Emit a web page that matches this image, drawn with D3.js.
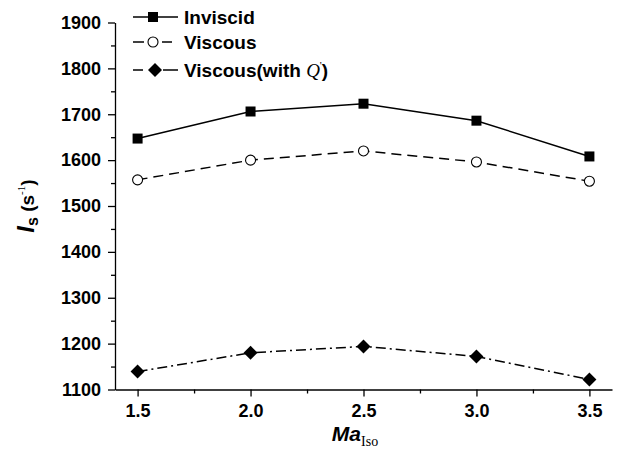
<!DOCTYPE html>
<html lang="en">
  <head>
    <meta charset="UTF-8" />
    <title>Is vs Ma</title>
    <script src="https://d3js.org/d3.v7.min.js"></script>
    <style>
      body { margin: 0; background: #fff; }
      text { font-family: "Liberation Sans", Arial, sans-serif; font-weight: bold; fill: #000; }
      .serif { font-family: "Liberation Serif", "Times New Roman", serif; font-weight: normal; }
    </style>
  </head>
  <body>
    <script>
      // data
      var maIso = [1.5, 2.0, 2.5, 3.0, 3.5];
      var inviscid = [1647, 1706, 1723, 1686, 1608];
      var viscous = [1557, 1600, 1620, 1596, 1554];
      var viscousQ = [1139, 1180, 1194, 1172, 1122];

      var xTicks = [1.5, 2.0, 2.5, 3.0, 3.5];
      var xMinor = [1.75, 2.25, 2.75, 3.25];
      var yTicks = [1100, 1200, 1300, 1400, 1500, 1600, 1700, 1800, 1900];
      var yMinor = [1150, 1250, 1350, 1450, 1550, 1650, 1750, 1850];

      var w = 622, h = 453;
      var svg = d3.select("body").append("svg")
        .attr("width", w).attr("height", h);

      var x = d3.scaleLinear().domain([1.4, 3.6]).range([115, 612]);
      var y = d3.scaleLinear().domain([1100, 1900]).range([389.5, 22.5]);

      // axes, major + minor ticks
      var gy = svg.append("g").attr("transform", "translate(115,0)")
        .call(d3.axisLeft(y).tickValues(yTicks).tickSize(7).tickSizeOuter(0).tickPadding(7).tickFormat(d3.format("d")));
      svg.append("g").attr("transform", "translate(115,0)")
        .call(d3.axisLeft(y).tickValues(yMinor).tickSize(4).tickSizeOuter(0).tickFormat(""))
        .select(".domain").remove();

      var gx = svg.append("g").attr("transform", "translate(0,389.5)")
        .call(d3.axisBottom(x).tickValues(xTicks).tickSize(7).tickSizeOuter(0).tickPadding(8).tickFormat(d3.format(".1f")));
      svg.append("g").attr("transform", "translate(0,389.5)")
        .call(d3.axisBottom(x).tickValues(xMinor).tickSize(4).tickSizeOuter(0).tickFormat(""))
        .select(".domain").remove();

      svg.selectAll(".tick line, .domain").attr("stroke", "#000").attr("stroke-width", 1.3);
      gy.selectAll("text").style("font-size", "18px").style("font-family", "Liberation Sans").style("font-weight", "bold");
      gx.selectAll("text").style("font-size", "18px").style("font-family", "Liberation Sans").style("font-weight", "bold");

      // series
      var series = [
        { name: "Inviscid", values: inviscid, dash: null, marker: "square" },
        { name: "Viscous", values: viscous, dash: "10,6", marker: "circle" },
        { name: "Viscous(with ", values: viscousQ, dash: "10,4,2,4", marker: "diamond" }
      ];

      var line = d3.line().x(function (d, i) { return x(maIso[i]); }).y(function (d) { return y(d); });

      function drawMarker(g, kind, cx, cy) {
        if (kind === "square") {
          g.append("rect").attr("x", cx - 5).attr("y", cy - 5).attr("width", 10).attr("height", 10).attr("fill", "#000");
        } else if (kind === "circle") {
          g.append("circle").attr("cx", cx).attr("cy", cy).attr("r", 5).attr("fill", "#fff").attr("stroke", "#000").attr("stroke-width", 1.1);
        } else {
          g.append("path").attr("d", "M" + cx + "," + (cy - 7) + "L" + (cx + 7) + "," + cy + "L" + cx + "," + (cy + 7) + "L" + (cx - 7) + "," + cy + "Z").attr("fill", "#000");
        }
      }

      series.forEach(function (s) {
        svg.append("path").datum(s.values)
          .attr("d", line)
          .attr("fill", "none")
          .attr("stroke", "#000")
          .attr("stroke-width", 1.5)
          .attr("stroke-dasharray", s.dash);
        var g = svg.append("g");
        s.values.forEach(function (v, i) { drawMarker(g, s.marker, x(maIso[i]), y(v)); });
      });

      // legend
      var legRows = [17, 42, 70];
      var legSegs = [[[133, 178]], [[133, 144], [162, 172]], [[133, 143], [163, 178]]];
      series.forEach(function (s, i) {
        var g = svg.append("g");
        legSegs[i].forEach(function (sg) {
          g.append("line").attr("x1", sg[0]).attr("x2", sg[1]).attr("y1", legRows[i]).attr("y2", legRows[i])
            .attr("stroke", "#000").attr("stroke-width", 1.5);
        });
        drawMarker(g, s.marker, i === 2 ? 155 : 153, legRows[i]);
        var t = g.append("text").attr("x", 184).attr("y", legRows[i] + 6.5).style("font-size", "19px").text(s.name);
        if (i === 2) {
          t.append("tspan").attr("class", "serif").style("font-style", "italic").style("font-size", "19px").text("Q");
          t.append("tspan").attr("class", "serif").style("font-size", "11px").attr("dy", -8).text("'");
          t.append("tspan").attr("dy", 8).text(")");
        }
      });

      // axis titles
      var xt = svg.append("text").attr("x", 355).attr("y", 441).attr("text-anchor", "middle").style("font-size", "21px");
      xt.append("tspan").style("font-style", "italic").text("Ma");
      xt.append("tspan").attr("class", "serif").style("font-size", "14px").attr("dy", 5).text("Iso");

      var yt = svg.append("text").attr("transform", "translate(34,206) rotate(-90)").attr("text-anchor", "middle").style("font-size", "24px");
      yt.append("tspan").style("font-style", "italic").text("I");
      yt.append("tspan").style("font-size", "16px").attr("dy", 4).text("s");
      yt.append("tspan").style("font-size", "19px").attr("dy", -4).text(" (s");
      yt.append("tspan").attr("class", "serif").style("font-size", "11px").attr("dy", -9).text("-1");
      yt.append("tspan").style("font-size", "19px").attr("dy", 9).text(")");
    </script>
  </body>
</html>
